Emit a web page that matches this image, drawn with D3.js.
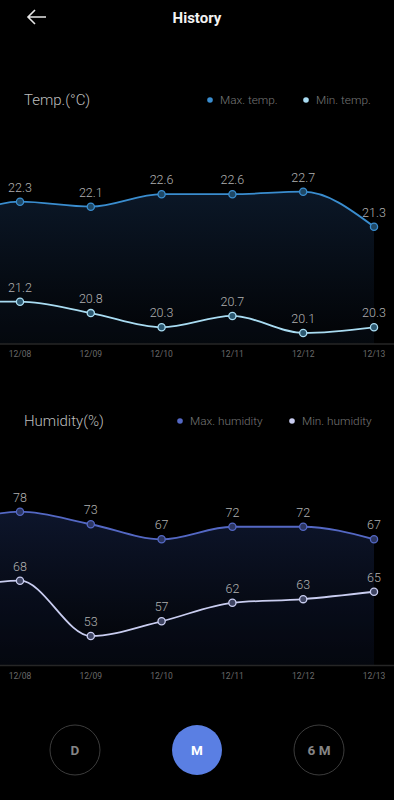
<!DOCTYPE html>
<html>
<head>
<meta charset="utf-8">
<script src="https://cdn.jsdelivr.net/npm/d3@7"></script>
<style>
  html, body { margin: 0; padding: 0; background: #000; }
  svg { display: block; font-family: Roboto, "Noto Sans", sans-serif; }
</style>
</head>
<body>
<svg id="chart"></svg>
<script>
const width = 394, height = 800;

// days shown on the x axis
const days = ["12/08", "12/09", "12/10", "12/11", "12/12", "12/13"];
// readings from the day before the first visible one (line runs off the left edge)
const prevMaxTemp = 21.4, prevMinTemp = 21.2, prevMaxHum = 72, prevMinHum = 65;

const maxTemp = [22.3, 22.1, 22.6, 22.6, 22.7, 21.3];
const minTemp = [21.2, 20.8, 20.3, 20.7, 20.1, 20.3];
const maxHum = [78, 73, 67, 72, 72, 67];
const minHum = [68, 53, 57, 62, 63, 65];

const periods = ["D", "M", "6 M"];
const activePeriod = "M";

const svg = d3.select('#chart').attr('width', width).attr('height', height);
const defs = svg.append('defs');

// header
svg.append('path')
  .attr('d', 'M46,17 H28 M35,10 L28,17 L35,24')
  .attr('fill', 'none').attr('stroke', '#e6e6e6').attr('stroke-width', 1.6);
svg.append('text').attr('x', 197).attr('y', 23).attr('text-anchor', 'middle')
  .attr('fill', '#f2f2f2').attr('font-size', 15).attr('font-weight', 'bold').text('History');

const x = d3.scaleLinear().domain([0, days.length - 1]).range([20, 374]);

function drawPanel(cfg) {
  const g = svg.append('g');

  // title + legend
  g.append('text').attr('x', 24).attr('y', cfg.titleY + 5)
    .attr('fill', '#bdbdbd').attr('font-size', 15).attr('font-weight', 300).text(cfg.title);
  cfg.legend.forEach((l, i) => {
    g.append('circle').attr('cx', l.x).attr('cy', cfg.titleY).attr('r', 2.8).attr('fill', cfg.colors[i]);
    g.append('text').attr('x', l.x + 10).attr('y', cfg.titleY + 4)
      .attr('fill', '#777').attr('font-size', 11.8).attr('font-weight', 300).text(l.label);
  });

  const yMax = d3.scaleLinear().domain(d3.extent(cfg.max)).range(cfg.maxRange);
  const yMin = d3.scaleLinear().domain(d3.extent(cfg.min)).range(cfg.minRange);

  const clipId = 'clip' + cfg.id;
  defs.append('clipPath').attr('id', clipId)
    .append('rect').attr('x', 0).attr('y', 0).attr('width', x(days.length - 1)).attr('height', height);

  const gradId = 'grad' + cfg.id;
  const grad = defs.append('linearGradient').attr('id', gradId)
    .attr('gradientUnits', 'userSpaceOnUse')
    .attr('x1', 0).attr('x2', 0).attr('y1', cfg.maxRange[1]).attr('y2', cfg.axisY);
  grad.append('stop').attr('offset', 0).attr('stop-color', cfg.areaTop);
  grad.append('stop').attr('offset', 1).attr('stop-color', '#020305');

  const maxPts = [[-1, cfg.prevMax]].concat(cfg.max.map((v, i) => [i, v]));
  const minPts = [[-1, cfg.prevMin]].concat(cfg.min.map((v, i) => [i, v]));

  const area = (ys) => d3.area().curve(d3.curveMonotoneX)
    .x(d => x(d[0])).y0(cfg.axisY).y1(d => ys(d[1]));
  const line = (ys) => d3.line().curve(d3.curveMonotoneX)
    .x(d => x(d[0])).y(d => ys(d[1]));

  const plot = g.append('g').attr('clip-path', `url(#${clipId})`);
  plot.append('path').datum(maxPts).attr('d', area(yMax)).attr('fill', `url(#${gradId})`);
  plot.append('path').datum(minPts).attr('d', area(yMin)).attr('fill', cfg.areaTop).attr('opacity', 0.25);

  // axis line and ticks
  g.append('line').attr('x1', 0).attr('x2', width).attr('y1', cfg.axisY).attr('y2', cfg.axisY)
    .attr('stroke', '#262626').attr('stroke-width', 1.5);
  g.selectAll('.tick').data(days).enter().append('text')
    .attr('x', (d, i) => x(i)).attr('y', cfg.axisY + 13)
    .attr('text-anchor', 'middle').attr('fill', '#6a6a6a').attr('font-size', 8.5).text(d => d);

  [[maxPts, yMax, cfg.colors[0], cfg.dotFill[0], cfg.max], [minPts, yMin, cfg.colors[1], cfg.dotFill[1], cfg.min]]
    .forEach(([pts, ys, col, fillCol, vals]) => {
      plot.append('path').datum(pts).attr('d', line(ys))
        .attr('fill', 'none').attr('stroke', col).attr('stroke-width', 1.8);
      g.selectAll(null).data(vals).enter().append('circle')
        .attr('cx', (d, i) => x(i)).attr('cy', d => ys(d)).attr('r', 3.6)
        .attr('fill', fillCol).attr('stroke', col).attr('stroke-width', 1.3);
      g.selectAll(null).data(vals).enter().append('text')
        .attr('x', (d, i) => x(i)).attr('y', d => ys(d) - 10)
        .attr('text-anchor', 'middle').attr('fill', '#b0b0b0').attr('font-size', 12.5).attr('font-weight', 300)
        .text(d => d);
    });
}

drawPanel({
  id: 'temp', title: 'Temp.(°C)', titleY: 100,
  legend: [{ x: 210, label: 'Max. temp.' }, { x: 306, label: 'Min. temp.' }],
  colors: ['#3a8dcf', '#a9dcf2'], dotFill: ['#1f4865', '#2c5870'],
  areaTop: '#0b1727',
  max: maxTemp, min: minTemp, prevMax: prevMaxTemp, prevMin: prevMinTemp,
  maxRange: [226.7, 191.7], minRange: [333, 301.7], axisY: 344
});

drawPanel({
  id: 'hum', title: 'Humidity(%)', titleY: 421,
  legend: [{ x: 180, label: 'Max. humidity' }, { x: 292, label: 'Min. humidity' }],
  colors: ['#5468c4', '#c9cdf0'], dotFill: ['#2c3662', '#3f4563'],
  areaTop: '#0d152b',
  max: maxHum, min: minHum, prevMax: prevMaxHum, prevMin: prevMinHum,
  maxRange: [539.3, 511.7], minRange: [636, 580.7], axisY: 665.5
});

// period buttons
const btnX = d3.scalePoint().domain(periods).range([75, 319]);
const btn = svg.selectAll('.btn').data(periods).enter().append('g')
  .attr('transform', d => `translate(${btnX(d)},750)`);
btn.append('circle').attr('r', 25)
  .attr('fill', d => d === activePeriod ? '#5a7fe3' : 'none')
  .attr('stroke', d => d === activePeriod ? 'none' : '#3c3c3c').attr('stroke-width', 1);
btn.append('text').attr('y', 5).attr('text-anchor', 'middle')
  .attr('font-size', 13.5).attr('font-weight', 'bold')
  .attr('fill', d => d === activePeriod ? '#ffffff' : '#858585')
  .text(d => d);
</script>
</body>
</html>
